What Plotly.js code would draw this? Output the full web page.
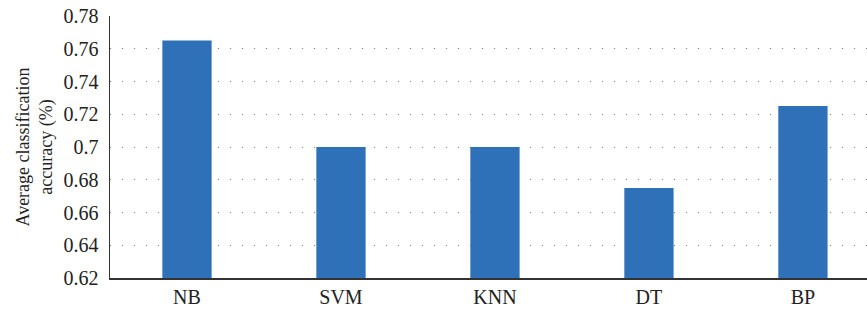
<!DOCTYPE html>
<html><head><meta charset="utf-8">
<script src="https://cdn.plot.ly/plotly-3.0.1.min.js"></script>
<style>html,body{margin:0;padding:0;background:#fff}#c{width:867px;height:310px}</style>
</head><body><div id="c"></div>
<script>
const categories = ["NB", "SVM", "KNN", "DT", "BP"];
const accuracy = [0.765, 0.700, 0.700, 0.675, 0.725];
const yTicks = [0.62, 0.64, 0.66, 0.68, 0.7, 0.72, 0.74, 0.76, 0.78];
const yTickLabels = ["0.62", "0.64", "0.66", "0.68", "0.7", "0.72", "0.74", "0.76", "0.78"];
const baseValue = 0.62;

const serif = "Liberation Serif, DejaVu Serif, serif";
Plotly.newPlot("c", [{
  type: "bar",
  x: categories,
  y: accuracy.map(v => v - baseValue),
  base: baseValue,
  marker: {color: "#2E71B8"},
  width: 0.32
}], {
  width: 867, height: 310,
  margin: {l: 110, r: 0, t: 16, b: 32},
  paper_bgcolor: "#fff", plot_bgcolor: "#fff",
  showlegend: false,
  xaxis: {
    type: "category",
    range: [-0.5, 4.416],
    showline: true, linecolor: "#333", linewidth: 1.5,
    ticks: "", showgrid: false,
    tickfont: {family: serif, size: 20, color: "#222"},
    zeroline: false
  },
  yaxis: {
    range: [0.62, 0.78],
    tickvals: yTicks, ticktext: yTickLabels,
    showline: true, linecolor: "#333", linewidth: 1.5,
    ticks: "", ticklabelstandoff: 6,
    showgrid: true, gridcolor: "#777", gridwidth: 1, griddash: "1px,11px",
    tickfont: {family: serif, size: 20, color: "#222"},
    zeroline: false,
    title: {text: "Average classification<br>accuracy (%)", font: {family: serif, size: 18, color: "#222"}, standoff: 6}
  }
}, {staticPlot: true});
</script></body></html>
